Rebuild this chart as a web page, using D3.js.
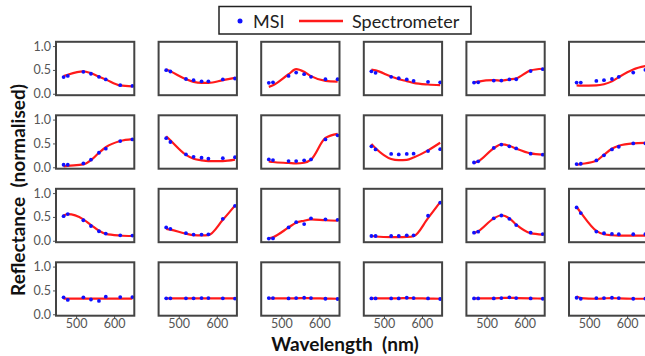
<!DOCTYPE html>
<html><head><meta charset="utf-8">
<script src="https://cdn.jsdelivr.net/npm/d3@7"></script>
<style>
html,body{margin:0;padding:0;background:#fff;}
svg{display:block;}
</style></head>
<body><svg id="chart" width="645" height="356"></svg>
<script>
// ---- data ----
const wavelengths = [467, 478, 519, 539, 560, 578, 616, 648];
const xTicks = [500, 600];
const yTicks = [0.0, 0.5, 1.0];
const seriesNames = ["MSI", "Spectrometer"];
// one entry per panel, row by row (4 rows x 6 columns)
const msiValues = [
  [0.35,0.375,0.46,0.42,0.355,0.30,0.18,0.165],
  [0.495,0.467,0.31,0.285,0.26,0.26,0.30,0.32],
  [0.23,0.24,0.375,0.445,0.41,0.355,0.305,0.305],
  [0.47,0.44,0.355,0.325,0.30,0.27,0.25,0.24],
  [0.235,0.24,0.277,0.277,0.30,0.305,0.475,0.515],
  [0.235,0.235,0.27,0.285,0.31,0.355,0.445,0.50],

  [0.053,0.053,0.08,0.16,0.305,0.39,0.55,0.585],
  [0.61,0.53,0.27,0.22,0.20,0.18,0.19,0.21],
  [0.165,0.15,0.13,0.13,0.145,0.165,0.585,0.67],
  [0.44,0.375,0.28,0.27,0.28,0.285,0.34,0.38],
  [0.10,0.125,0.405,0.475,0.44,0.395,0.285,0.265],
  [0.067,0.074,0.144,0.25,0.375,0.43,0.50,0.50],

  [0.515,0.56,0.43,0.31,0.20,0.15,0.115,0.11],
  [0.28,0.25,0.16,0.13,0.13,0.135,0.46,0.73],
  [0.045,0.05,0.28,0.39,0.35,0.47,0.45,0.44],
  [0.10,0.10,0.10,0.10,0.115,0.115,0.525,0.80],
  [0.17,0.19,0.47,0.53,0.46,0.33,0.17,0.14],
  [0.70,0.58,0.193,0.158,0.144,0.137,0.137,0.137],

  [0.355,0.30,0.355,0.31,0.28,0.37,0.36,0.36],
  [0.335,0.335,0.335,0.335,0.34,0.34,0.335,0.33],
  [0.34,0.34,0.333,0.34,0.347,0.34,0.326,0.32],
  [0.333,0.333,0.333,0.333,0.347,0.34,0.333,0.32],
  [0.333,0.333,0.333,0.34,0.355,0.34,0.333,0.326],
  [0.347,0.326,0.34,0.34,0.347,0.34,0.326,0.326]
];
const spectrometerValues = [
  [0.37,0.40,0.47,0.43,0.36,0.30,0.175,0.155],
  [0.51,0.47,0.305,0.25,0.23,0.23,0.285,0.335],
  [0.145,0.18,0.41,0.515,0.46,0.37,0.27,0.255],
  [0.51,0.49,0.36,0.305,0.265,0.23,0.195,0.18],
  [0.235,0.255,0.285,0.277,0.30,0.32,0.49,0.525],
  [0.175,0.17,0.175,0.20,0.26,0.35,0.51,0.58],

  [0.02,0.03,0.06,0.15,0.305,0.42,0.55,0.59],
  [0.65,0.565,0.26,0.18,0.145,0.13,0.13,0.16],
  [0.125,0.11,0.09,0.08,0.095,0.16,0.615,0.70],
  [0.49,0.40,0.175,0.15,0.155,0.205,0.355,0.515],
  [0.09,0.125,0.40,0.48,0.45,0.39,0.29,0.265],
  [0.053,0.067,0.137,0.263,0.39,0.45,0.50,0.51],

  [0.53,0.56,0.45,0.33,0.21,0.145,0.11,0.10],
  [0.25,0.235,0.15,0.12,0.115,0.12,0.44,0.74],
  [0.05,0.075,0.28,0.38,0.42,0.45,0.43,0.42],
  [0.10,0.09,0.075,0.075,0.08,0.095,0.475,0.81],
  [0.16,0.20,0.47,0.535,0.47,0.34,0.16,0.13],
  [0.71,0.59,0.207,0.137,0.116,0.109,0.109,0.109],

  [0.33,0.33,0.33,0.33,0.33,0.33,0.33,0.33],
  [0.335,0.335,0.335,0.335,0.335,0.335,0.335,0.335],
  [0.335,0.335,0.335,0.335,0.34,0.335,0.33,0.325],
  [0.335,0.335,0.335,0.335,0.34,0.335,0.33,0.325],
  [0.333,0.333,0.335,0.34,0.345,0.34,0.333,0.33],
  [0.375,0.34,0.326,0.333,0.34,0.333,0.326,0.326]
];

// ---- layout ----
const nRows = 4, nCols = 6;
const left0 = 56, top0 = 41.8, pitchX = 102.6, pitchY = 73.5;
const pw = 78.3, ph = 53.4;
const font = "Lato, 'Open Sans', 'DejaVu Sans', sans-serif";

const svg = d3.select("#chart");
const x = d3.scaleLinear().domain([447, 653]).range([0, pw]);
const y = d3.scaleLinear().domain([-0.03, 1.09]).range([ph, 0]);
const line = d3.line().x((d, i) => x(wavelengths[i])).y(d => y(d)).curve(d3.curveMonotoneX);

for (let r = 0; r < nRows; r++) {
  for (let c = 0; c < nCols; c++) {
    const idx = r * nCols + c;
    const g = svg.append("g").attr("transform", `translate(${left0 + c * pitchX},${top0 + r * pitchY})`);

    if (c === 0) {
      const ya = g.append("g").call(d3.axisLeft(y).tickValues(yTicks).tickFormat(d3.format(".1f")).tickSize(3).tickPadding(2));
      ya.select(".domain").remove();
      ya.selectAll("line").attr("stroke", "#555");
      ya.selectAll("text").attr("fill", "#555").style("font-family", font).style("font-size", "12.5px");
    }
    if (r === nRows - 1) {
      const xa = g.append("g").attr("transform", `translate(0,${ph})`)
        .call(d3.axisBottom(x).tickValues(xTicks).tickFormat(d3.format("d")).tickSize(3).tickPadding(0));
      xa.select(".domain").remove();
      xa.selectAll("line").attr("stroke", "#444");
      xa.selectAll("text").attr("fill", "#555").style("font-family", font).style("font-size", "12.5px");
    }

    g.append("path").datum(spectrometerValues[idx])
      .attr("d", line).attr("fill", "none").attr("stroke", "#ff1a1a")
      .attr("stroke-width", 2.2).attr("stroke-linejoin", "round");

    g.selectAll("circle.msi").data(msiValues[idx]).join("circle")
      .attr("class", "msi")
      .attr("cx", (d, i) => x(wavelengths[i])).attr("cy", d => y(d))
      .attr("r", 1.9).attr("fill", "#1010ff");

    g.append("rect").attr("x", 0).attr("y", 0).attr("width", pw).attr("height", ph)
      .attr("fill", "none").attr("stroke", "#444").attr("stroke-width", 2);
  }
}

// ---- axis titles ----
svg.append("text").attr("x", 345).attr("y", 351).attr("text-anchor", "middle")
  .style("font-family", font).style("font-size", "19px").style("font-weight", "bold")
  .style("white-space", "pre").attr("xml:space", "preserve")
  .attr("fill", "#111").text("Wavelength  (nm)");
svg.append("text").attr("transform", "translate(25,190) rotate(-90)").attr("text-anchor", "middle")
  .style("font-family", font).style("font-size", "19px").style("font-weight", "bold")
  .style("white-space", "pre").attr("xml:space", "preserve")
  .attr("fill", "#111").text("Reflectance  (normalised)");

// ---- legend ----
const lg = svg.append("g");
lg.append("rect").attr("x", 219).attr("y", 6.5).attr("width", 252).attr("height", 27.5)
  .attr("fill", "#fff").attr("stroke", "#222").attr("stroke-width", 1.5);
lg.append("circle").attr("cx", 240).attr("cy", 21).attr("r", 2.5).attr("fill", "#1010ff");
lg.append("text").attr("x", 253).attr("y", 27.5).style("font-family", font).style("font-size", "18px")
  .attr("fill", "#222").text(seriesNames[0]);
lg.append("line").attr("x1", 299).attr("x2", 343).attr("y1", 21).attr("y2", 21)
  .attr("stroke", "#ff1a1a").attr("stroke-width", 2.5);
lg.append("text").attr("x", 352).attr("y", 27.5).style("font-family", font).style("font-size", "18px")
  .attr("fill", "#222").text(seriesNames[1]);
</script>
</body></html>
